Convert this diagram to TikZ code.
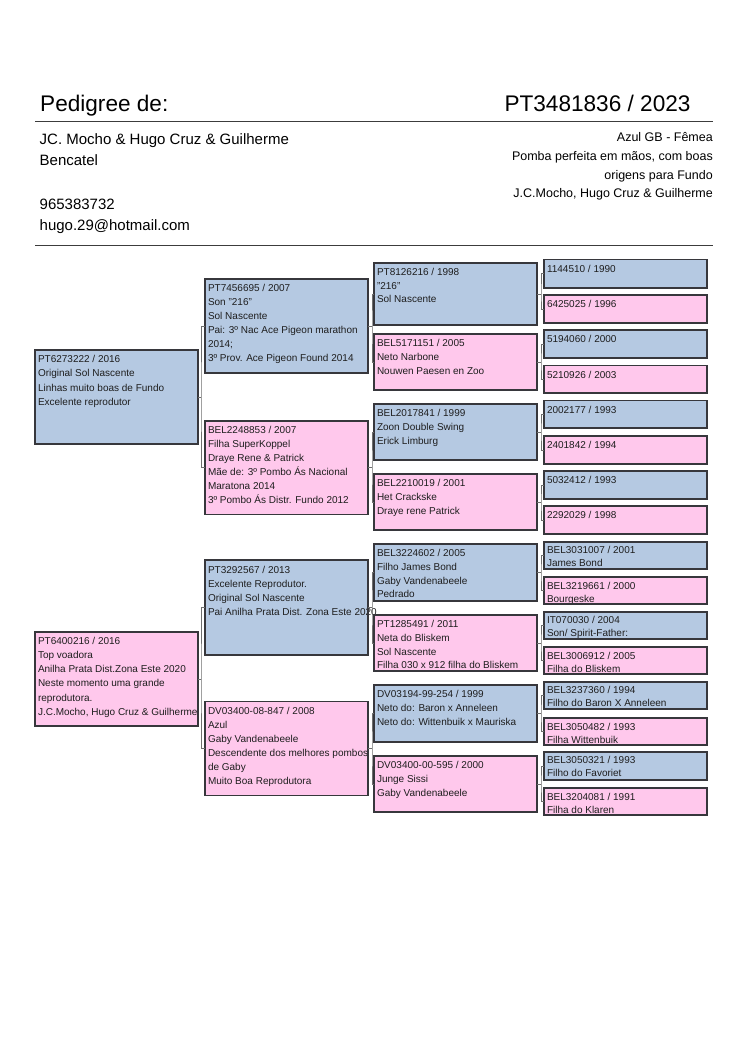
\documentclass[tikz,border=0pt]{standalone}
\usepackage{fontspec}
\setmainfont{Liberation Sans}
\definecolor{pblue}{RGB}{181,201,226}
\definecolor{ppink}{RGB}{255,200,236}
\definecolor{pline}{RGB}{55,55,60}
\definecolor{pconn}{RGB}{110,110,110}
\definecolor{ptxt}{RGB}{30,30,30}
\definecolor{hrule}{RGB}{60,60,60}
\newcommand\pedlsp{14}
% name, x1, y1, x2, y2, fill, first-baseline offset, text
\newcommand\pedbox[8]{%
  \node[pfill, fill=#6, minimum width={(#4-#2)*1pt}, minimum height={(#5-#3)*1pt}] (#1) at (#2,#3) {};
  \node[ptext] (#1t) at ({#2+3},{#3+#7-9}) {\rule{0pt}{9pt}#8};
  \draw[pborder] (#1.north west) rectangle (#1.south east);
}
% parent, child1, child2, dx
\newcommand\pedbrk[4]{%
  \draw[conn] (#1.east) -- ++(#4,0) coordinate (#1m);
  \draw[conn] (#2.west) -| (#1m) |- (#3.west);
}
\begin{document}
\begin{tikzpicture}[x=1pt,y=-1pt,
  pfill/.style={anchor=north west, inner sep=0pt, outer sep=0pt, draw=none},
  pborder/.style={draw=pline, line width=1.3pt},
  ptext/.style={anchor=north west, inner sep=0pt, outer sep=0pt, align=left, text=ptxt,
    font={\fontsize{10}{\pedlsp}\selectfont}},
  conn/.style={draw=pconn, line width=0.7pt},
  hdbig/.style={inner sep=0pt, font={\fontsize{22.6}{26}\selectfont}},
  hdleft/.style={inner sep=0pt, anchor=base west, font={\fontsize{15}{18}\selectfont}},
  hdright/.style={inner sep=0pt, anchor=base east, font={\fontsize{12.5}{15}\selectfont}},
  hline/.style={draw=hrule, line width=1.2pt}]
\useasboundingbox[fill=white] (0,0) rectangle (750,1060);

% ---------- header ----------
\node[hdbig, anchor=base west] (title) at (40,111.7) {Pedigree de:};
\node[hdbig, anchor=base east] (ring) at (690.7,111.7) {PT3481836 / 2023};
\coordinate (r1a) at (35,121.5);
\coordinate (r1b) at (713,121.5);
\draw[hline] (r1a) -- (r1b);
\node[hdleft] (own1) at (39.5,144) {JC. Mocho \& Hugo Cruz \& Guilherme};
\node[hdleft] (own2) at (39.5,165.7) {Bencatel};
\node[hdleft] (own3) at (39.5,209.5) {965383732};
\node[hdleft] (own4) at (39.5,230.5) {hugo.29@hotmail.com};
\node[hdright] (inf1) at (713,141) {Azul GB - Fêmea};
\node[hdright] (inf2) at (713,160.5) {Pomba perfeita em mãos, com boas};
\node[hdright] (inf3) at (713,179) {origens para Fundo};
\node[hdright] (inf4) at (713,197.5) {J.C.Mocho, Hugo Cruz \& Guilherme};
\coordinate (r2a) at (35,245.5);
\coordinate (r2b) at (713,245.5);
\draw[hline] (r2a) -- (r2b);

% ---------- generation 1 ----------
\renewcommand\pedlsp{14.1}
\pedbox{g1a}{35}{350}{198}{444}{pblue}{12.8}{PT6273222 / 2016\\Original Sol Nascente\\Linhas muito boas de Fundo\\Excelente reprodutor}
\pedbox{g1b}{35}{632}{198}{726}{ppink}{12.6}{PT6400216 / 2016\\Top voadora\\Anilha Prata Dist.Zona Este 2020\\Neste momento uma grande\\reprodutora.\\J.C.Mocho, Hugo Cruz \& Guilherme}

% ---------- generation 2 ----------
\renewcommand\pedlsp{14}
\pedbox{g2a}{205}{279}{368}{373}{pblue}{12.6}{PT7456695 / 2007\\Son "216"\\Sol Nascente\\Pai: 3º Nac Ace Pigeon marathon\\2014;\\3º Prov. Ace Pigeon Found 2014}
\pedbox{g2b}{205}{421}{368}{514.5}{ppink}{12}{BEL2248853 / 2007\\Filha SuperKoppel\\Draye Rene \& Patrick\\Mãe de: 3º Pombo Ás Nacional\\Maratona 2014\\3º Pombo Ás Distr. Fundo 2012}
\pedbox{g2c}{205}{560}{368}{655}{pblue}{13}{PT3292567 / 2013\\Excelente Reprodutor.\\Original Sol Nascente\\Pai Anilha Prata Dist. Zona Este 2020}
\pedbox{g2d}{205}{701.7}{368}{795.7}{ppink}{12.8}{DV03400-08-847 / 2008\\Azul\\Gaby Vandenabeele\\Descendente dos melhores pombos\\de Gaby\\Muito Boa Reprodutora}

% ---------- generation 3 ----------
\renewcommand\pedlsp{13.8}
\pedbox{g3a}{374}{263}{537}{325}{pblue}{12.2}{PT8126216 / 1998\\"216"\\Sol Nascente}
\pedbox{g3b}{374}{334}{537}{390}{ppink}{12.6}{BEL5171151 / 2005\\Neto Narbone\\Nouwen Paesen en Zoo}
\pedbox{g3c}{374}{404}{537}{460}{pblue}{12.6}{BEL2017841 / 1999\\Zoon Double Swing\\Erick Limburg}
\pedbox{g3d}{374}{474}{537}{530}{ppink}{12.6}{BEL2210019 / 2001\\Het Crackske\\Draye rene Patrick}
\pedbox{g3e}{374}{544}{537}{601}{pblue}{12.4}{BEL3224602 / 2005\\Filho James Bond\\Gaby Vandenabeele\\Pedrado}
\pedbox{g3f}{374}{615}{537}{671}{ppink}{12.4}{PT1285491 / 2011\\Neta do Bliskem\\Sol Nascente\\Filha 030 x 912 filha do Bliskem}
\pedbox{g3g}{374}{685}{537}{742}{pblue}{12.4}{DV03194-99-254 / 1999\\Neto do: Baron x Anneleen\\Neto do: Wittenbuik x Mauriska}
\pedbox{g3h}{374}{756}{537}{812}{ppink}{12.6}{DV03400-00-595 / 2000\\Junge Sissi\\Gaby Vandenabeele}

% ---------- generation 4 ----------
\renewcommand\pedlsp{12.6}
\pedbox{g4a}{544}{259.5}{707}{288}{pblue}{12.5}{1144510 / 1990}
\pedbox{g4b}{544}{295}{707}{323}{ppink}{12.5}{6425025 / 1996}
\pedbox{g4c}{544}{330}{707}{358}{pblue}{12.5}{5194060 / 2000}
\pedbox{g4d}{544}{365.5}{707}{393}{ppink}{12.5}{5210926 / 2003}
\pedbox{g4e}{544}{400.5}{707}{428}{pblue}{12.5}{2002177 / 1993}
\pedbox{g4f}{544}{436}{707}{464}{ppink}{12.5}{2401842 / 1994}
\pedbox{g4g}{544}{471}{707}{499}{pblue}{12.5}{5032412 / 1993}
\pedbox{g4h}{544}{506}{707}{534}{ppink}{12.5}{2292029 / 1998}
\pedbox{g4i}{544}{542}{707}{569}{pblue}{11.5}{BEL3031007 / 2001\\James Bond}
\pedbox{g4j}{544}{577}{707}{604}{ppink}{12.5}{BEL3219661 / 2000\\Bourgeske}
\pedbox{g4k}{544}{612}{707}{639}{pblue}{11.8}{IT070030 / 2004\\Son/ Spirit-Father:}
\pedbox{g4l}{544}{647}{707}{674}{ppink}{12.5}{BEL3006912 / 2005\\Filha do Bliskem}
\pedbox{g4m}{544}{682}{707}{709}{pblue}{11.8}{BEL3237360 / 1994\\Filho do Baron X Anneleen}
\pedbox{g4n}{544}{718}{707}{745}{ppink}{12.5}{BEL3050482 / 1993\\Filha Wittenbuik}
\pedbox{g4o}{544}{752}{707}{780}{pblue}{11.8}{BEL3050321 / 1993\\Filho do Favoriet}
\pedbox{g4p}{544}{788}{707}{815}{ppink}{12.5}{BEL3204081 / 1991\\Filha do Klaren}

% ---------- connectors ----------
\pedbrk{g1a}{g2a}{g2b}{3}
\pedbrk{g1b}{g2c}{g2d}{3}
\pedbrk{g2a}{g3a}{g3b}{4}
\pedbrk{g2b}{g3c}{g3d}{4}
\pedbrk{g2c}{g3e}{g3f}{4}
\pedbrk{g2d}{g3g}{g3h}{4}
\pedbrk{g3a}{g4a}{g4b}{4}
\pedbrk{g3b}{g4c}{g4d}{4}
\pedbrk{g3c}{g4e}{g4f}{4}
\pedbrk{g3d}{g4g}{g4h}{4}
\pedbrk{g3e}{g4i}{g4j}{4}
\pedbrk{g3f}{g4k}{g4l}{4}
\pedbrk{g3g}{g4m}{g4n}{4}
\pedbrk{g3h}{g4o}{g4p}{4}
\end{tikzpicture}
\end{document}
